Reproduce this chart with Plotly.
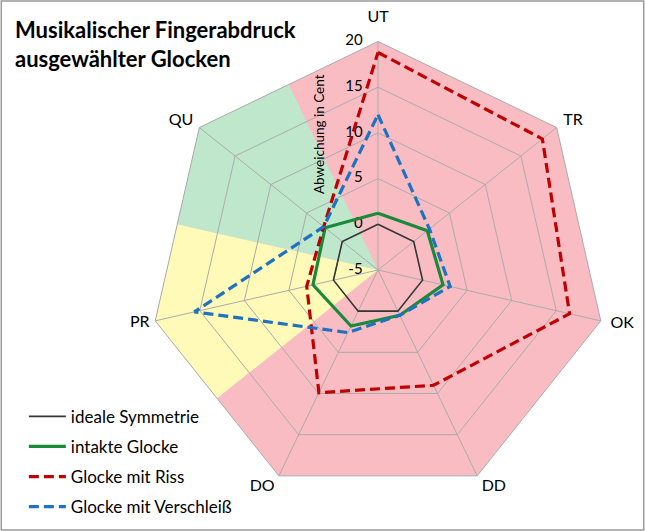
import numpy as np
import plotly.graph_objects as go

# ---- data ----
categories = ["UT", "TR", "OK", "DD", "DO", "PR", "QU"]
ideal = [0, 0, 0, 0, 0, 0, 0]
intakt = [1.2, 1.9, 2.3, 0.5, 1.8, 2.3, 2.4]
riss = [18.8, 18.0, 16.5, 9.0, 9.9, 3.0, 2.6]
verschleiss = [12.0, 2.2, 3.1, 0.5, 2.6, 15.6, 2.6]
radial_ticks = [-5, 0, 5, 10, 15, 20]
r_min, r_max = -5, 20

# ---- label placement (style) ----
label_r = [22.6, 21.85, 22.35, 21.9, 21.9, 21.7, 22.0]
label_dtheta = [0, 1.2, -0.4, -2.4, 2.4, 0.3, -1.5]

FONT = "Lato"
W, H = 645, 531
cx, cy, R = 378, 270, 228.5          # centre and outer radius in pixels
r_ext = 23                           # extended range of the label/background polar
R1 = R * (r_ext - r_min) / (r_max - r_min)


def domain(rad):
    return (dict(x=[(cx - rad) / W, (cx + rad) / W],
                 y=[(H - cy - rad) / H, (H - cy + rad) / H]))


n = len(categories)
step = 360.0 / n
r_mid = r_min + (r_max - r_min) * np.cos(np.pi / n)
pad = "\u00a0" * 4


def wedge(i):
    th = [0, (i - 0.5) * step, i * step, (i + 0.5) * step, 0]
    rr = [r_min, r_mid, r_max, r_mid, r_min]
    return th, rr


fig = go.Figure()

# background areas (polar 1, linear angles)
fig.add_trace(go.Scatterpolar(
    theta=[k * step for k in range(n)] + [0], r=[r_max] * (n + 1),
    mode="lines", fill="toself", fillcolor="#f9bcc3", line=dict(width=0),
    showlegend=False, hoverinfo="skip", subplot="polar"))
th, rr = wedge(6)
fig.add_trace(go.Scatterpolar(theta=th, r=rr, mode="lines", fill="toself",
                              fillcolor="#bee7cc", line=dict(width=0),
                              showlegend=False, hoverinfo="skip", subplot="polar"))
th, rr = wedge(5)
fig.add_trace(go.Scatterpolar(theta=th, r=rr, mode="lines", fill="toself",
                              fillcolor="#fffab8", line=dict(width=0),
                              showlegend=False, hoverinfo="skip", subplot="polar"))

# radial tick labels and category labels
fig.add_trace(go.Scatterpolar(
    theta=[0] * len(radial_ticks), r=radial_ticks, mode="text",
    text=[f"{t}{pad}" for t in radial_ticks], textposition="middle left",
    textfont=dict(family=FONT, size=15, color="#000"), cliponaxis=False,
    showlegend=False, hoverinfo="skip", subplot="polar"))
fig.add_trace(go.Scatterpolar(
    theta=[k * step + d for k, d in enumerate(label_dtheta)], r=label_r,
    mode="text", text=categories, textposition="middle center",
    textfont=dict(family=FONT, size=16, color="#000"), cliponaxis=False,
    showlegend=False, hoverinfo="skip", subplot="polar"))

cat_closed = categories + [categories[0]]


def closed(v):
    return list(v) + [v[0]]


series = [
    ("ideale Symmetrie", ideal, dict(color="#363636", width=1.6)),
    ("intakte Glocke", intakt, dict(color="#1a8a3a", width=3.2)),
    ("Glocke mit Riss", riss, dict(color="#c00000", width=3.2, dash="10px,5px")),
    ("Glocke mit Verschleiß", verschleiss, dict(color="#1f72c0", width=3.2, dash="10px,5px")),
]
for i, (name, vals, ln) in enumerate(series):
    fig.add_trace(go.Scatterpolar(theta=cat_closed, r=closed(vals), mode="lines",
                                  name=name, line=ln, legendgroup=str(i),
                                  subplot="polar2"))

grid = "#ababab"
fig.update_layout(
    width=W, height=H,
    margin=dict(l=0, r=0, t=0, b=0),
    paper_bgcolor="white",
    font=dict(family=FONT, size=15, color="#000"),
    polar=dict(
        domain=domain(R1),
        bgcolor="rgba(0,0,0,0)",
        angularaxis=dict(visible=False, rotation=90, direction="clockwise",
                         thetaunit="degrees", type="linear"),
        radialaxis=dict(visible=False, range=[r_min, r_ext]),
    ),
    polar2=dict(
        domain=domain(R),
        bgcolor="rgba(0,0,0,0)",
        gridshape="linear",
        angularaxis=dict(type="category", categoryarray=categories,
                         rotation=90, direction="clockwise",
                         showline=True, linecolor=grid, linewidth=1,
                         gridcolor=grid, gridwidth=1, ticks="",
                         showticklabels=False),
        radialaxis=dict(range=[r_min, r_max], tickvals=radial_ticks,
                        angle=90, showline=False, showticklabels=False,
                        gridcolor=grid, gridwidth=1, ticks=""),
    ),
    legend=dict(x=0.037, y=0.249, xanchor="left", yanchor="top",
                bgcolor="rgba(0,0,0,0)", tracegroupgap=5, itemwidth=37,
                font=dict(family=FONT, size=17)),
    annotations=[
        dict(text="<b>Musikalischer Fingerabdruck<br>ausgewählter Glocken</b>",
             xref="paper", yref="paper", x=13 / W, y=1 - 14 / H,
             xanchor="left", yanchor="top", align="left", showarrow=False,
             font=dict(family=FONT, size=22)),
        dict(text="Abweichung in Cent", xref="paper", yref="paper",
             x=319 / W, y=1 - 134 / H, textangle=-90, showarrow=False,
             xanchor="center", yanchor="middle",
             font=dict(family=FONT, size=13.5)),
    ],
    shapes=[dict(type="rect", xref="paper", yref="paper", x0=0.002, x1=0.998,
                 y0=0.002, y1=0.998, line=dict(color="#9a9a9a", width=1.5))],
)

fig.write_html("out.html", config=dict(displayModeBar=False),
               post_script="document.body.style.margin='0';document.body.style.overflow='hidden';")
